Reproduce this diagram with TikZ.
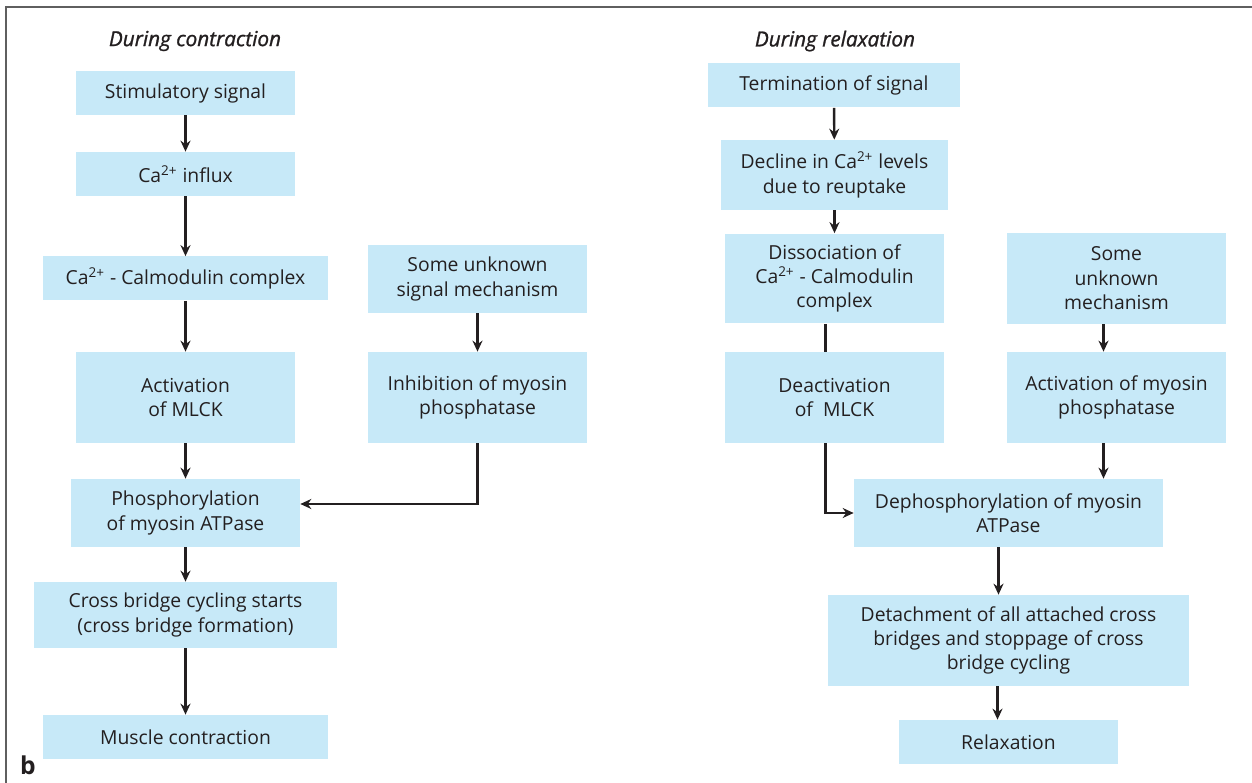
\documentclass[tikz,border=0pt]{standalone}
\usepackage{fontspec}
\setmainfont{Open Sans}
\newfontfamily\headfont[FakeBold=1.2]{Open Sans}
\usetikzlibrary{arrows.meta,positioning,calc}
\definecolor{paleblue}{RGB}{199,233,248}
\definecolor{ink}{RGB}{35,31,32}
\definecolor{rule}{RGB}{95,95,95}
\newcommand{\caion}{Ca\textsuperscript{2+}}
\tikzset{
  >={Stealth[length=2.2mm,width=2mm]},
  box/.style={fill=paleblue,text=ink,inner sep=0pt,align=center,
    font=\fontsize{11}{13.9}\selectfont,minimum width=4.38cm,minimum height=#1},
  box/.default=0.88cm,
  flow/.style={->,line width=1.4pt,draw=ink},
  link/.style={line width=1.4pt,draw=ink},
  heading/.style={font=\headfont\fontsize{11.8}{14}\selectfont\itshape,text=ink},
}
\begin{document}
\begin{tikzpicture}[x=0.02cm,y=-0.02cm]
  \useasboundingbox (0,0) rectangle (1252,783);
  \draw[rule,line width=1.1pt] (6,783) -- (6,7) -- (1252,7);
  % during contraction
  \node[heading] (hcon) at (195,41) {During contraction};
  \node[box] (stim) at (185.5,93) {Stimulatory signal};
  \node[box] (influx) at (185.5,174) {\caion{} influx};
  \node[box,minimum width=5.7cm] (cam) at (185.5,278.5) {\caion{} - Calmodulin complex};
  \node[box=1.82cm] (act) at (185.5,397.5) {Activation\\of MLCK};
  \node[box=1.36cm,minimum width=4.58cm] (phos) at (185.5,513) {Phosphorylation\\of myosin ATPase};
  \node[box=1.32cm,minimum width=6.06cm] (cross) at (185.5,615) {Cross bridge cycling starts\\(cross bridge formation)};
  \node[box,minimum width=5.7cm] (musc) at (185.5,737) {Muscle contraction};
  \node[box=1.36cm] (unka) at (477.5,279) {Some unknown\\signal mechanism};
  \node[box=1.82cm] (inh) at (477.5,397.5) {Inhibition of myosin\\phosphatase};
  \draw[flow] (stim) -- (influx);
  \draw[flow] (influx) -- (cam);
  \draw[flow] (cam) -- (act);
  \draw[flow] (act) -- (phos);
  \draw[flow] (phos) -- (cross);
  \draw[flow] (cross) -- (musc);
  \draw[flow] (unka) -- (inh);
  \draw[flow] (inh.south) |- ([yshift=0.18cm]phos.east);
  % during relaxation
  \node[heading] (hrel) at (835,41) {During relaxation};
  \node[box,minimum width=5.04cm] (term) at (834,85.5) {Termination of signal};
  \node[box=1.4cm,minimum width=4.54cm] (decl) at (834.5,175) {Decline in \caion{} levels\\due to reuptake};
  \node[box=1.8cm] (diss) at (834.5,278.5) {Dissociation of\\\caion{} - Calmodulin\\complex};
  \node[box=1.82cm] (deact) at (834.5,397.5) {Deactivation\\of~~MLCK};
  \node[box=1.82cm] (unkb) at (1116.5,278.5) {Some\\unknown\\mechanism};
  \node[box=1.82cm] (actp) at (1116.5,397.5) {Activation of myosin\\phosphatase};
  \node[box=1.36cm,minimum width=6.18cm] (deph) at (1008.5,513) {Dephosphorylation of myosin\\ATPase};
  \node[box=1.82cm,minimum width=7.22cm] (detach) at (1008.5,640.5) {Detachment of all attached cross\\bridges and stoppage of cross\\bridge cycling};
  \node[box] (relax) at (1008.5,742) {Relaxation};
  \draw[flow] (term) -- (decl);
  \draw[flow] (decl) -- (diss);
  \draw[link] ([xshift=-0.18cm]diss.south) -- ([xshift=-0.18cm]deact.north);
  \draw[flow] ([xshift=-0.18cm]deact.south) |- (deph.west);
  \draw[flow] ([xshift=-0.26cm]unkb.south) -- ([xshift=-0.26cm]actp.north);
  \draw[flow] ([xshift=-0.26cm]actp.south) -- ([xshift=-0.26cm]actp.south |- deph.north);
  \draw[flow] ([xshift=-0.2cm]deph.south) -- ([xshift=-0.2cm]detach.north);
  \draw[flow] ([xshift=-0.22cm]detach.south) -- ([xshift=-0.22cm]relax.north);
  \node[font=\fontsize{14}{14}\selectfont\bfseries,text=ink] (panel) at (28,765) {b};
\end{tikzpicture}
\end{document}
